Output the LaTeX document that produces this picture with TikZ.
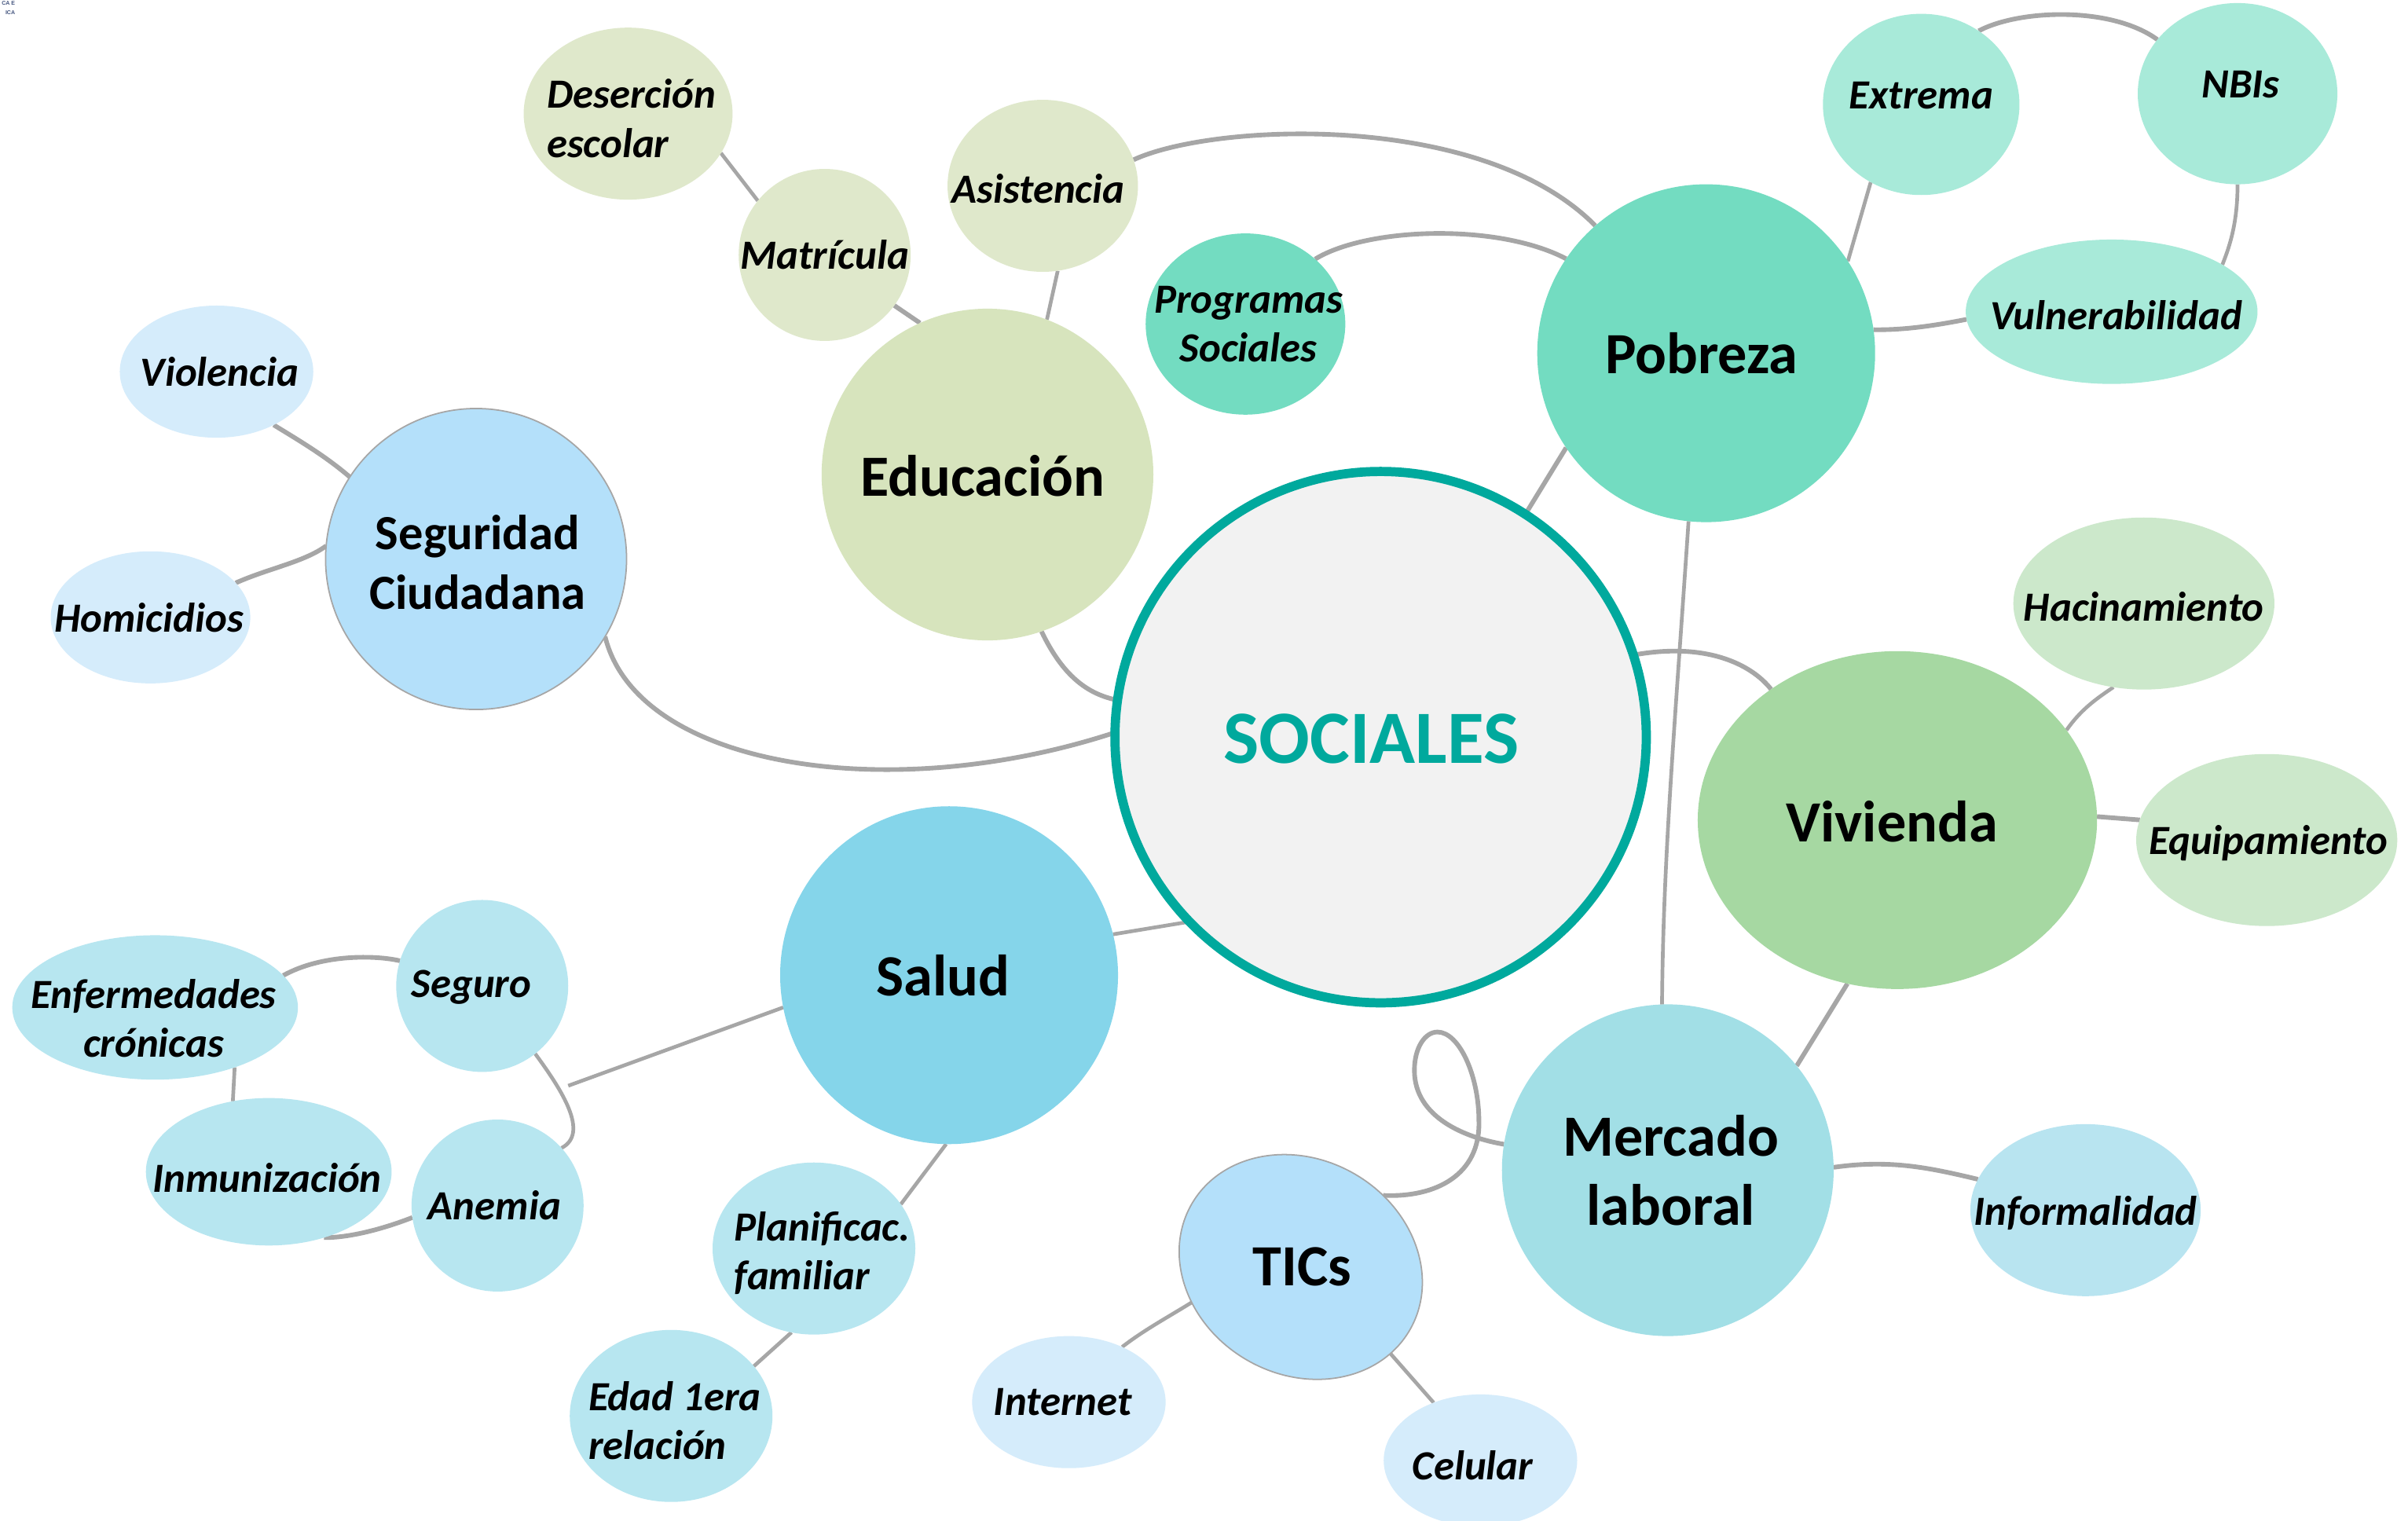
\documentclass[tikz,border=0pt]{standalone}
\usepackage{fontspec}
\setmainfont{Carlito}
\setsansfont{Liberation Sans}
\usetikzlibrary{shapes.geometric}
\pgfdeclarelayer{bg}
\pgfsetlayers{bg,main}
\definecolor{socfill}{HTML}{F2F2F2}
\definecolor{teal}{HTML}{00A99D}
\definecolor{edu}{HTML}{D7E4BD}
\definecolor{eduL}{HTML}{DFE8CB}
\definecolor{pob}{HTML}{73DCC1}
\definecolor{pobL}{HTML}{A8EAD9}
\definecolor{viv}{HTML}{A6D8A2}
\definecolor{vivL}{HTML}{CCE8CB}
\definecolor{mer}{HTML}{A2DFE6}
\definecolor{merL}{HTML}{B8E4F0}
\definecolor{tic}{HTML}{B4E0FA}
\definecolor{ticL}{HTML}{D5ECFB}
\definecolor{sal}{HTML}{85D5EA}
\definecolor{salL}{HTML}{B7E6F0}
\definecolor{lin}{HTML}{A6A6A6}
\definecolor{logo}{HTML}{44557F}
\tikzset{
  mainc/.style={circle, inner sep=0pt, outer sep=0pt},
  bub/.style={ellipse, inner sep=0pt, outer sep=0pt},
  mt/.style={inner sep=0pt, align=center, font=\fontsize{38}{45}\selectfont\bfseries},
  lt/.style={inner sep=0pt, align=center, font=\fontsize{27}{32}\selectfont\bfseries\itshape},
  conn/.style={draw=lin, line width=3pt},
  thin/.style={draw=lin, line width=2.4pt},
  rim/.style={draw=lin, line width=0.9pt}
}
\begin{document}
\begin{tikzpicture}[x=1pt,y=-1pt]
\useasboundingbox (0,0) rectangle (1568,990);
\begin{pgfonlayer}{bg}
\fill[white] (0,0) rectangle (1568,990);
\end{pgfonlayer}

% logo remnant
\node[anchor=north east, inner sep=0pt, font=\fontsize{3.6}{4}\selectfont\sffamily\bfseries, text=logo] (logoA) at (10,0.8) {CA E};
\node[anchor=north east, inner sep=0pt, font=\fontsize{3.6}{4}\selectfont\sffamily\bfseries, text=logo] (logoB) at (10,6.6) {ICA};

% central node
\node[mainc, minimum size=346, fill=socfill, draw=teal, line width=6pt] (soc) at (899,480) {};
\node[inner sep=0pt, font=\fontsize{49}{55}\selectfont\bfseries, text=teal] (soct) at (893,481) {SOCIALES};

% main topics
\node[mainc, minimum size=216, fill=edu] (edu) at (643,309) {};
\node[mt] (edut) at (640,310) {Educación};
\node[mainc, minimum size=220, fill=pob] (pob) at (1111,230) {};
\node[mt] (pobt) at (1108,230) {Pobreza};
\node[bub, minimum width=260, minimum height=220, fill=viv] (viv) at (1235.5,534) {};
\node[mt] (vivt) at (1232,535) {Vivienda};
\node[mainc, minimum size=216, fill=mer] (mer) at (1086,762) {};
\node[mt] (mert) at (1088,762) {Mercado\\laboral};
\node[bub, minimum width=164, minimum height=140, rotate=-30, fill=tic, rim] (tics) at (847,825) {};
\node[mt] (ticst) at (848,825) {TICs};
\node[mainc, minimum size=220, fill=sal] (sal) at (618,635) {};
\node[mt] (salt) at (614,635) {Salud};
\node[mainc, minimum size=196, fill=tic, rim] (seg) at (310,364) {};
\node[mt, font=\fontsize{32}{39}\selectfont\bfseries] (segt) at (311,366) {Seguridad\\Ciudadana};

% leaves
\node[bub, minimum width=136, minimum height=112, fill=eduL] (des) at (409,74) {};
\node[lt, align=left, anchor=west] (dest) at (356,77) {Deserción\\escolar};
\node[bub, minimum width=112, minimum height=112, fill=eduL] (mat) at (537,166) {};
\node[lt] (matt) at (537,166) {Matrícula};
\node[bub, minimum width=124, minimum height=112, fill=eduL] (asi) at (679,121) {};
\node[lt] (asit) at (676,123) {Asistencia};
\node[bub, minimum width=130, minimum height=118, fill=pob] (pro) at (811,211) {};
\node[lt] (prot) at (813,211) {Programas\\Sociales};
\node[bub, minimum width=128, minimum height=118, fill=pobL] (ext) at (1251,68) {};
\node[lt] (extt) at (1251,62) {Extrema};
\node[bub, minimum width=130, minimum height=118, fill=pobL] (nbi) at (1457,61) {};
\node[lt] (nbit) at (1459,55) {NBIs};
\node[bub, minimum width=190, minimum height=94, fill=pobL] (vul) at (1375,203) {};
\node[lt] (vult) at (1378,205) {Vulnerabilidad};
\node[bub, minimum width=170, minimum height=112, fill=vivL] (hac) at (1396,393) {};
\node[lt] (hact) at (1396,395) {Hacinamiento};
\node[bub, minimum width=170, minimum height=112, fill=vivL] (equ) at (1476,547) {};
\node[lt] (equt) at (1477,549) {Equipamiento};
\node[bub, minimum width=150, minimum height=112, fill=merL] (inf) at (1358,788) {};
\node[lt] (inft) at (1358,790) {Informalidad};
\node[bub, minimum width=126, minimum height=86, fill=ticL] (cel) at (964,951) {};
\node[lt] (celt) at (959,954) {Celular};
\node[bub, minimum width=126, minimum height=86, fill=ticL] (int) at (696,913) {};
\node[lt] (intt) at (692,913) {Internet};
\node[bub, minimum width=132, minimum height=112, fill=salL] (pla) at (530,813) {};
\node[lt, align=left, anchor=west] (plat) at (478,816) {Planificac.\\familiar};
\node[bub, minimum width=132, minimum height=112, fill=salL] (eda) at (437,922) {};
\node[lt, align=left, anchor=west] (edat) at (383,925) {Edad 1era\\relación};
\node[bub, minimum width=112, minimum height=112, fill=salL] (seu) at (314,642) {};
\node[lt] (seut) at (307,643) {Seguro};
\node[bub, minimum width=112, minimum height=112, fill=salL] (ane) at (324,785) {};
\node[lt] (anet) at (322,785) {Anemia};
\node[bub, minimum width=160, minimum height=96, fill=salL] (inm) at (175,763) {};
\node[lt] (inmt) at (174,767) {Inmunización};
\node[bub, minimum width=186, minimum height=94, fill=salL] (enf) at (101,656) {};
\node[lt] (enft) at (100,663) {Enfermedades\\crónicas};
\node[bub, minimum width=126, minimum height=86, fill=ticL] (vio) at (141,242) {};
\node[lt] (viot) at (143,242) {Violencia};
\node[bub, minimum width=130, minimum height=86, fill=ticL] (hom) at (98,402) {};
\node[lt] (homt) at (97,402) {Homicidios};

\coordinate (saljoin) at (370,707);

\begin{pgfonlayer}{bg}
\draw[conn] (edu.-71) .. controls (692,440) and (708,452) .. (soc.172);
\draw[conn] (seg.-31) .. controls (415,500) and (580,525) .. (soc.179);
\draw[thin] (sal.14) -- (soc.224);
\draw[conn] (pob.214) -- (soc.57);
\draw[conn] (soc.18) .. controls (1110,418) and (1140,432) .. (viv.134);
\draw[thin] (pob.-96) .. controls (1090,480) and (1083,560) .. (mer.92);
\draw[conn] (viv.-107) -- (mer.39);
\draw[conn] (mer.171) .. controls (955,741) and (921,728) .. (921,697)
   .. controls (921,682) and (928,672) .. (936,672)
   .. controls (950,672) and (963,700) .. (963,730)
   .. controls (964,765) and (935,780) .. (tics.71);
\draw[conn] (mer.1) .. controls (1230,755) and (1255,760) .. (inf.164);
\draw[thin] (tics.228) .. controls (760,858) and (745,866) .. (int.46);
\draw[thin] (tics.-14) -- (cel.129);
\draw[thin] (sal.-91) -- (pla.27);
\draw[thin] (pla.-105) -- (eda.31);
\draw[thin] (sal.191) -- (saljoin);
\draw[thin] (seu.-52) .. controls (366,710) and (384,738) .. (ane.42);
\draw[conn] (seu.163) .. controls (245,622) and (210,621) .. (enf.14);
\draw[thin] (enf.-37) -- (inm.117);
\draw[conn] (inm.-50) .. controls (228,806) and (250,800) .. (ane.188);
\draw[conn] (seg.147) .. controls (212,297) and (195,287) .. (vio.-43);
\draw[conn] (seg.175) .. controls (198,366) and (175,370) .. (hom.22);
\draw[conn] (edu.114) -- (mat.-36);
\draw[thin] (mat.141) -- (des.-23);
\draw[thin] (edu.69) -- (asi.-80);
\draw[conn] (asi.16) .. controls (790,80) and (965,72) .. (pob.131);
\draw[conn] (pro.43) .. controls (890,148) and (975,145) .. (pob.146);
\draw[thin] (pob.33) -- (ext.-123);
\draw[conn] (ext.52) .. controls (1315,6) and (1375,4) .. (nbi.146);
\draw[thin] (nbi.-90) .. controls (1457,145) and (1452,160) .. (vul.23);
\draw[conn] (pob.8) .. controls (1240,215) and (1260,212) .. (vul.183);
\draw[thin] (viv.28) .. controls (1355,462) and (1365,455) .. (hac.-110);
\draw[conn] (viv.1) -- (equ.171);
\end{pgfonlayer}
\end{tikzpicture}
\end{document}
